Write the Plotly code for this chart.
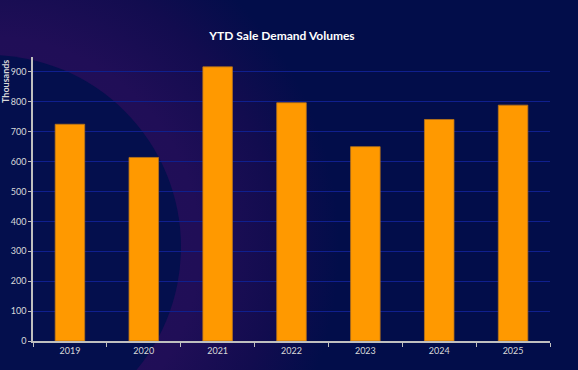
import base64
import plotly.graph_objects as go

years = ["2019", "2020", "2021", "2022", "2023", "2024", "2025"]
volumes = [725, 614, 917, 797, 650, 741, 789]
y_ticks = [0, 100, 200, 300, 400, 500, 600, 700, 800, 900]

W, H = 578, 370

svg = f'''<svg xmlns="http://www.w3.org/2000/svg" width="{W}" height="{H}" viewBox="0 0 {W} {H}">
<defs>
<radialGradient id="g" cx="-11" cy="247" r="350" gradientUnits="userSpaceOnUse">
<stop offset="0" stop-color="#240e5a"/>
<stop offset="0.6" stop-color="#200e57"/>
<stop offset="0.82" stop-color="#120c4f"/>
<stop offset="1" stop-color="#020d4a"/>
</radialGradient>
</defs>
<rect width="{W}" height="{H}" fill="#020d4a"/>
<rect width="{W}" height="{H}" fill="url(#g)"/>
<circle cx="-11" cy="247" r="192" fill="#040f4d"/>
</svg>'''
bg = "data:image/svg+xml;base64," + base64.b64encode(svg.encode()).decode()

fig = go.Figure()
fig.add_trace(go.Bar(
    x=years, y=volumes,
    marker=dict(color="#FF9900", line=dict(color="#b8741a", width=0.8)),
    hoverinfo="x+y",
))

font_family = "Lato, 'Open Sans', sans-serif"

fig.update_layout(
    width=W, height=H,
    autosize=False,
    margin=dict(l=33, r=28, t=57, b=29, pad=0),
    paper_bgcolor="#020d4a",
    plot_bgcolor="rgba(0,0,0,0)",
    bargap=0.6,
    showlegend=False,
    font=dict(family=font_family, color="#d9d9d9", size=9),
    title=dict(
        text="<b>YTD Sale Demand Volumes</b>",
        x=282 / W, xanchor="center",
        y=1 - 36 / H, yanchor="middle",
        font=dict(family=font_family, size=12, color="#ffffff"),
    ),
    images=[dict(
        source=bg, xref="paper", yref="paper",
        x=-33 / (W - 61), y=1 + 57 / (H - 86),
        sizex=W / (W - 61), sizey=H / (H - 86),
        xanchor="left", yanchor="top",
        sizing="stretch", layer="below",
    )],
    xaxis=dict(
        showgrid=False,
        showline=True, linecolor="#bfbfbf", linewidth=1.5,
        ticks="outside", tickson="boundaries", ticklen=4,
        tickcolor="#bfbfbf", tickwidth=1,
        tickfont=dict(size=9, color="#d9d9d9"),
        fixedrange=True,
    ),
    yaxis=dict(
        range=[0, 950],
        tickvals=y_ticks,
        showgrid=True, gridcolor="#0f1f8e", gridwidth=1,
        showline=True, linecolor="#bfbfbf", linewidth=1.5,
        ticks="outside", ticklen=3, tickcolor="#bfbfbf",
        tickfont=dict(size=9, color="#d9d9d9"),
        zeroline=False,
        fixedrange=True,
    ),
    annotations=[dict(
        text="<b>Thousands</b>", textangle=-90,
        xref="paper", yref="paper",
        x=-28 / (W - 61), y=1 - 25 / (H - 86),
        xanchor="center", yanchor="middle",
        showarrow=False,
        font=dict(family=font_family, size=9, color="#d9d9d9"),
    )],
)

fig.write_html(
    "out.html",
    config={"displayModeBar": False},
    post_script="document.body.style.margin='0';document.body.style.background='#020d4a';",
)
